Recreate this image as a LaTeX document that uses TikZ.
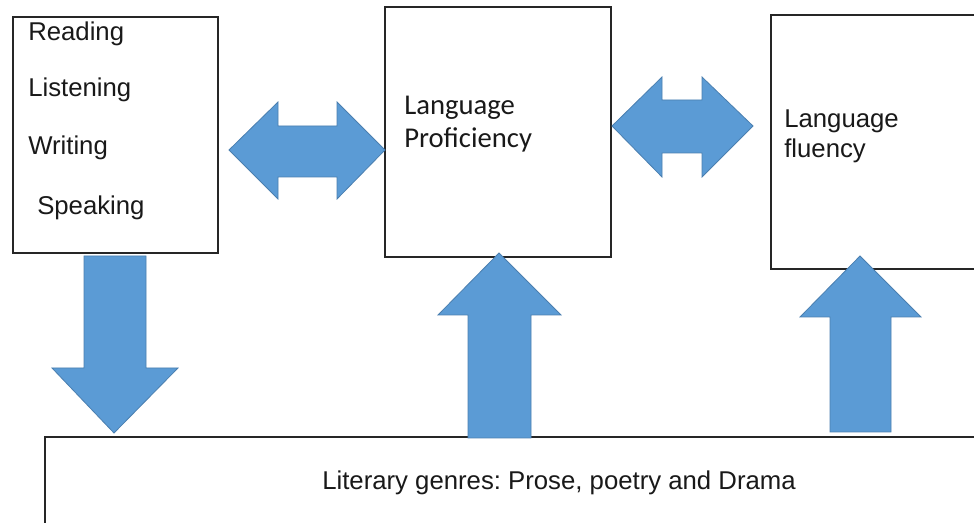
\documentclass[tikz,border=0pt]{standalone}
\usepackage{fontspec}
\setmainfont{Liberation Sans}
\newfontfamily\calibrifont{Carlito}
\frenchspacing
\begin{document}
\begin{tikzpicture}[x=0.75pt,y=-0.75pt,
  box/.style={draw=black!85,line width=1.1pt},
  blockarrow/.style={fill=arrowblue,draw=arrowedge,line width=0.6pt,line join=miter},
  lbl/.style={inner sep=0pt,text=black!90,font=\fontsize{19.3}{23}\selectfont},
  clbl/.style={inner sep=0pt,text=black!90,font=\calibrifont\fontsize{21.5}{25}\selectfont}]
\definecolor{arrowblue}{HTML}{5B9BD5}
\definecolor{arrowedge}{HTML}{4A7FB0}
\useasboundingbox (0,0) rectangle (974,523);
\fill[white] (0,0) rectangle (974,523);
% boxes
\draw[box] (13,17) rectangle (218,253);
\draw[box] (385,7) rectangle (611,257);
\draw[box] (771,15) rectangle (990,269);
\draw[box] (45,437) rectangle (990,540);
% texts
\node[lbl,anchor=base west] (reading) at (28,41) {Reading};
\node[lbl,anchor=base west] (listening) at (28,97) {Listening};
\node[lbl,anchor=base west] (writing) at (28,155) {Writing};
\node[lbl,anchor=base west] (speaking) at (37,215) {Speaking};
\node[clbl,anchor=base west] (prof1) at (404,115) {Language};
\node[clbl,anchor=base west] (prof2) at (404,148) {Proficiency};
\node[lbl,anchor=base west] (flu1) at (784,128) {Language};
\node[lbl,anchor=base west] (flu2) at (784,158) {fluency};
\node[lbl,anchor=base] (genres) at (559,489) {Literary genres: Prose, poetry and Drama};
% block arrows
\draw[blockarrow] (229,150) -- (278,102) -- (278,126) -- (337,126) -- (337,102) -- (385,150)
  -- (337,199) -- (337,177) -- (278,177) -- (278,199) -- cycle;
\draw[blockarrow] (612,126) -- (662,77) -- (662,100) -- (702,100) -- (702,77) -- (753,126)
  -- (702,177) -- (702,153) -- (662,153) -- (662,177) -- cycle;
\draw[blockarrow] (84,256) -- (146,256) -- (146,368) -- (178,368) -- (114,433) -- (52,368)
  -- (84,368) -- cycle;
\draw[blockarrow] (499,253) -- (561,315) -- (531,315) -- (531,438) -- (468,438) -- (468,315)
  -- (438,315) -- cycle;
\draw[blockarrow] (860,256) -- (921,317) -- (891,317) -- (891,432) -- (830,432) -- (830,317)
  -- (800,317) -- cycle;
\end{tikzpicture}
\end{document}
